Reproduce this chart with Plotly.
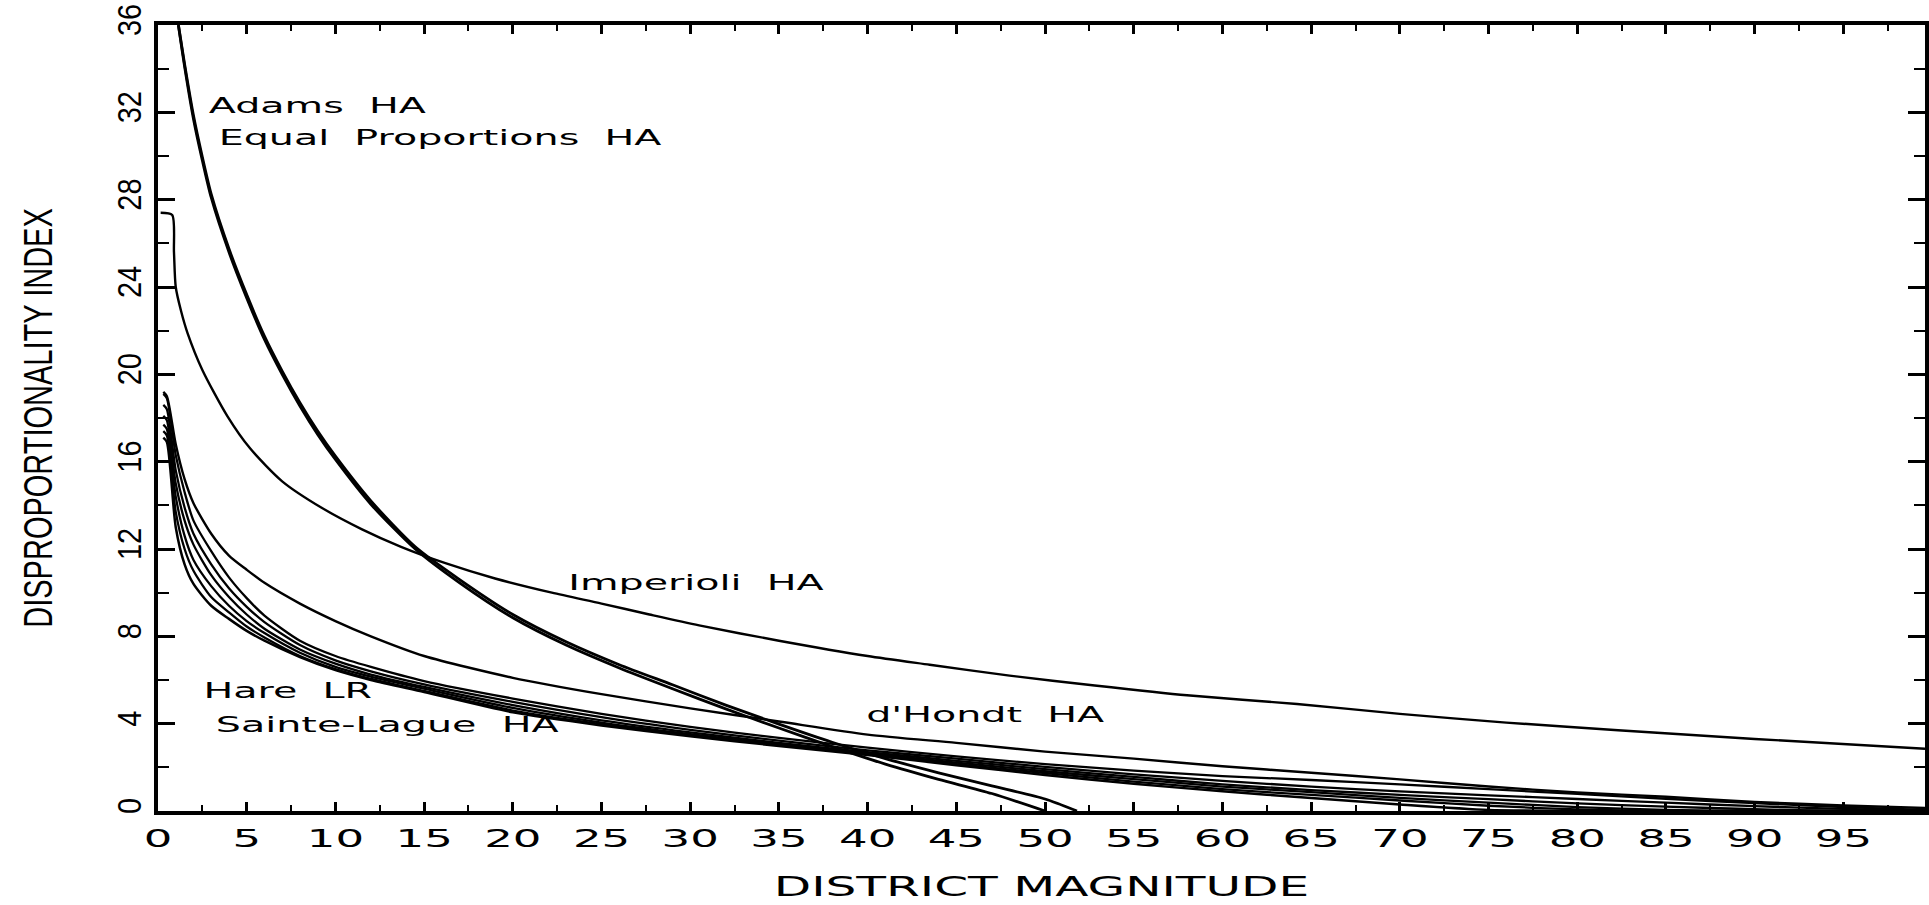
import plotly.graph_objects as go

# ---------------- data ----------------
MAG_BUNDLE = [0.3, 0.5, 1, 1.5, 2, 3, 4, 5, 6, 8, 10, 12, 15, 20, 25, 30, 35, 40,
              45, 50, 55, 60, 65, 70, 75, 80, 85, 90, 95, 99.6]

DHONDT_HA = [19.2, 19.0, 16.8, 15.2, 14.1, 12.7, 11.7, 11.05, 10.45, 9.5, 8.7, 8.0, 7.1,
             6.1, 5.35, 4.7, 4.1, 3.5, 3.12, 2.72, 2.4, 2.05, 1.75, 1.45, 1.12, 0.85,
             0.65, 0.42, 0.25, 0.14]
BUNDLE_1 = [19.1, 18.9, 16.3, 14.6, 13.3, 11.9, 10.7, 9.75, 8.95, 7.8, 7.1, 6.6, 5.95,
            5.15, 4.45, 3.85, 3.35, 2.9, 2.5, 2.15, 1.85, 1.6, 1.42, 1.22, 1.0, 0.78,
            0.56, 0.36, 0.18, 0.05]
BUNDLE_2 = [18.6, 18.4, 15.6, 13.9, 12.7, 11.3, 10.2, 9.35, 8.65, 7.6, 6.9, 6.4, 5.8,
            5.0, 4.3, 3.72, 3.22, 2.78, 2.4, 2.02, 1.68, 1.38, 1.12, 0.9, 0.72, 0.55,
            0.38, 0.22, 0.1, 0.02]
HARE_LR = [18.1, 17.9, 15.0, 13.3, 12.2, 10.8, 9.8, 9.0, 8.35, 7.4, 6.75, 6.25, 5.68,
           4.85, 4.15, 3.6, 3.12, 2.7, 2.3, 1.92, 1.56, 1.22, 0.96, 0.74, 0.54, 0.35,
           0.2, 0.08, 0.0, 0.0]
SAINTE_LAGUE_HA = [17.7, 17.5, 14.4, 12.6, 11.5, 10.3, 9.4, 8.7, 8.15, 7.25, 6.6, 6.15,
                   5.6, 4.72, 4.05, 3.52, 3.06, 2.64, 2.22, 1.82, 1.46, 1.12, 0.86, 0.6,
                   0.38, 0.18, 0.05, 0.0, 0.0, 0.0]
BUNDLE_5 = [17.4, 17.2, 13.7, 12.0, 11.0, 9.8, 9.1, 8.45, 7.95, 7.1, 6.5, 6.05, 5.5, 4.6,
            3.98, 3.48, 3.02, 2.6, 2.15, 1.74, 1.35, 1.0, 0.74, 0.48, 0.24, 0.07, 0.0,
            0.0, 0.0, 0.0]
BUNDLE_6 = [17.1, 16.9, 13.0, 11.3, 10.4, 9.4, 8.8, 8.25, 7.8, 7.05, 6.45, 6.0, 5.45,
            4.52, 3.92, 3.42, 2.98, 2.56, 2.1, 1.65, 1.25, 0.9, 0.6, 0.3, 0.05, 0.0, 0.0,
            0.0, 0.0, 0.0]

MAG_ADAMS = [1.15, 1.5, 2, 2.5, 3, 4, 5, 6, 7, 8, 9, 10, 12, 14.5, 17, 20, 23, 26, 29,
             32, 35, 38, 41, 44, 47, 50]
ADAMS_HA = [36, 34.1, 31.7, 29.8, 28.1, 25.6, 23.5, 21.6, 20.0, 18.55, 17.25, 16.1,
            14.05, 12.0, 10.45, 8.85, 7.6, 6.55, 5.6, 4.68, 3.8, 2.95, 2.15, 1.45, 0.8, 0]

MAG_EP = [1.15, 1.5, 2, 2.5, 3, 4, 5, 6, 7, 8, 9, 10, 12, 14.5, 17, 20, 23, 26, 29, 32,
          35, 38, 41, 44, 47, 50, 51.8]
EQUAL_PROPORTIONS_HA = [36, 34.2, 31.85, 29.95, 28.25, 25.75, 23.65, 21.75, 20.15, 18.7,
                        17.4, 16.25, 14.2, 12.1, 10.6, 9.0, 7.75, 6.7, 5.78, 4.85, 3.98,
                        3.15, 2.4, 1.75, 1.15, 0.55, 0]

MAG_IMP = [0.15, 0.8, 0.9, 1.0, 1.3, 1.66, 2.5, 3.9, 5.2, 7, 9.2, 11.5, 13.7, 16.2, 19,
           22.2, 25, 27.7, 30.5, 35, 40, 43.5, 48, 52.8, 58, 64.2, 70, 76, 82.3, 90, 99.6]
IMPERIOLI_HA = [27.4, 27.3, 25.6, 24.0, 22.9, 21.9, 20.2, 18.1, 16.6, 15.1, 13.9, 12.9,
                12.1, 11.35, 10.65, 10.0, 9.5, 9.0, 8.5, 7.8, 7.1, 6.7, 6.2, 5.75, 5.3,
                4.9, 4.45, 4.05, 3.7, 3.3, 2.85]

X_TICKS = list(range(0, 100, 5))
X_TICK_LABELS = [str(v) for v in X_TICKS]
X_MINOR = [v + 2.5 for v in X_TICKS]
Y_TICKS = list(range(0, 37, 4))
Y_TICK_LABELS = [str(v) for v in Y_TICKS]
Y_MINOR = list(range(2, 36, 4))

LABEL_TEXTS = ["Adams  HA", "Equal  Proportions  HA", "Imperioli  HA",
               "d'Hondt  HA", "Hare  LR", "Sainte-Lague  HA"]

# ---------------- figure ----------------
fig = go.Figure()

series = [
    ("Imperioli HA", MAG_IMP, IMPERIOLI_HA, 2.4),
    ("d'Hondt HA", MAG_BUNDLE, DHONDT_HA, 2.4),
    ("Bundle 1", MAG_BUNDLE, BUNDLE_1, 2.3),
    ("Bundle 2", MAG_BUNDLE, BUNDLE_2, 2.3),
    ("Hare LR", MAG_BUNDLE, HARE_LR, 2.3),
    ("Sainte-Lague HA", MAG_BUNDLE, SAINTE_LAGUE_HA, 2.3),
    ("Bundle 5", MAG_BUNDLE, BUNDLE_5, 2.3),
    ("Bundle 6", MAG_BUNDLE, BUNDLE_6, 2.5),
    ("Adams HA", MAG_ADAMS, ADAMS_HA, 2.8),
    ("Equal Proportions HA", MAG_EP, EQUAL_PROPORTIONS_HA, 2.8),
]
for name, xs, ys, w in series:
    fig.add_trace(go.Scatter(
        x=xs, y=ys, name=name, mode="lines",
        line=dict(color="black", width=w, shape="spline", smoothing=0.7),
        showlegend=False, hoverinfo="skip",
    ))

ann_font = dict(family="DejaVu Sans", size=22, color="black")
label_pos = [(9.0, 32.3), (15.9, 30.85), (30.3, 10.45), (46.6, 4.4), (7.3, 5.5), (12.9, 3.95)]
for txt, (ax, ay) in zip(LABEL_TEXTS, label_pos):
    fig.add_annotation(x=ax, y=ay, xref="x", yref="y", text=txt, showarrow=False,
                       xanchor="center", yanchor="middle", font=ann_font)

fig.update_layout(
    width=1929, height=905,
    margin=dict(l=158, r=0, t=25, b=94),
    paper_bgcolor="white", plot_bgcolor="white",
    showlegend=False,
)

fig.update_xaxes(
    range=[0, 99.6],
    tickmode="array", tickvals=X_TICKS, ticktext=X_TICK_LABELS,
    ticks="inside", ticklen=9, tickwidth=2.5, tickcolor="black",
    minor=dict(tickmode="array", tickvals=X_MINOR, ticks="inside", ticklen=6,
               tickwidth=2, tickcolor="black", showgrid=False),
    showline=True, linewidth=3.5, linecolor="black", mirror="ticks",
    showgrid=False, zeroline=False,
    tickfont=dict(family="DejaVu Sans", size=25, color="black"),
    ticklabelstandoff=2,
    title=dict(text="DISTRICT MAGNITUDE",
               font=dict(family="DejaVu Sans", size=27, color="black"), standoff=26),
)
fig.update_yaxes(
    range=[0, 36],
    tickmode="array", tickvals=Y_TICKS, ticktext=Y_TICK_LABELS,
    ticks="inside", ticklen=17, tickwidth=2.5, tickcolor="black",
    minor=dict(tickmode="array", tickvals=Y_MINOR, ticks="inside", ticklen=11,
               tickwidth=2, tickcolor="black", showgrid=False),
    showline=True, linewidth=3.5, linecolor="black", mirror="ticks",
    showgrid=False, zeroline=False,
    tickangle=-90,
    tickfont=dict(family="Liberation Sans", size=34, color="black"),
    ticklabelstandoff=0,
    title=dict(text="DISPROPORTIONALITY INDEX",
               font=dict(family="Liberation Sans", size=40, color="black"), standoff=46),
)

POST = """
document.body.style.margin = '0';
var gd = document.getElementById('{plot_id}');
function fitText(sel, f) {
  gd.querySelectorAll(sel).forEach(function(t){
    var L = t.getComputedTextLength();
    if (L > 0) {
      t.setAttribute('textLength', (L * f).toFixed(1));
      t.setAttribute('lengthAdjust', 'spacingAndGlyphs');
    }
  });
}
fitText('g.xtick text', 1.8);
fitText('text.xtitle', 1.8);
fitText('text.annotation-text', 1.8);
fitText('g.ytick text', 0.85);
fitText('text.ytitle', 0.725);
"""

fig.write_html("out.html", post_script=POST, config={"displayModeBar": False})
